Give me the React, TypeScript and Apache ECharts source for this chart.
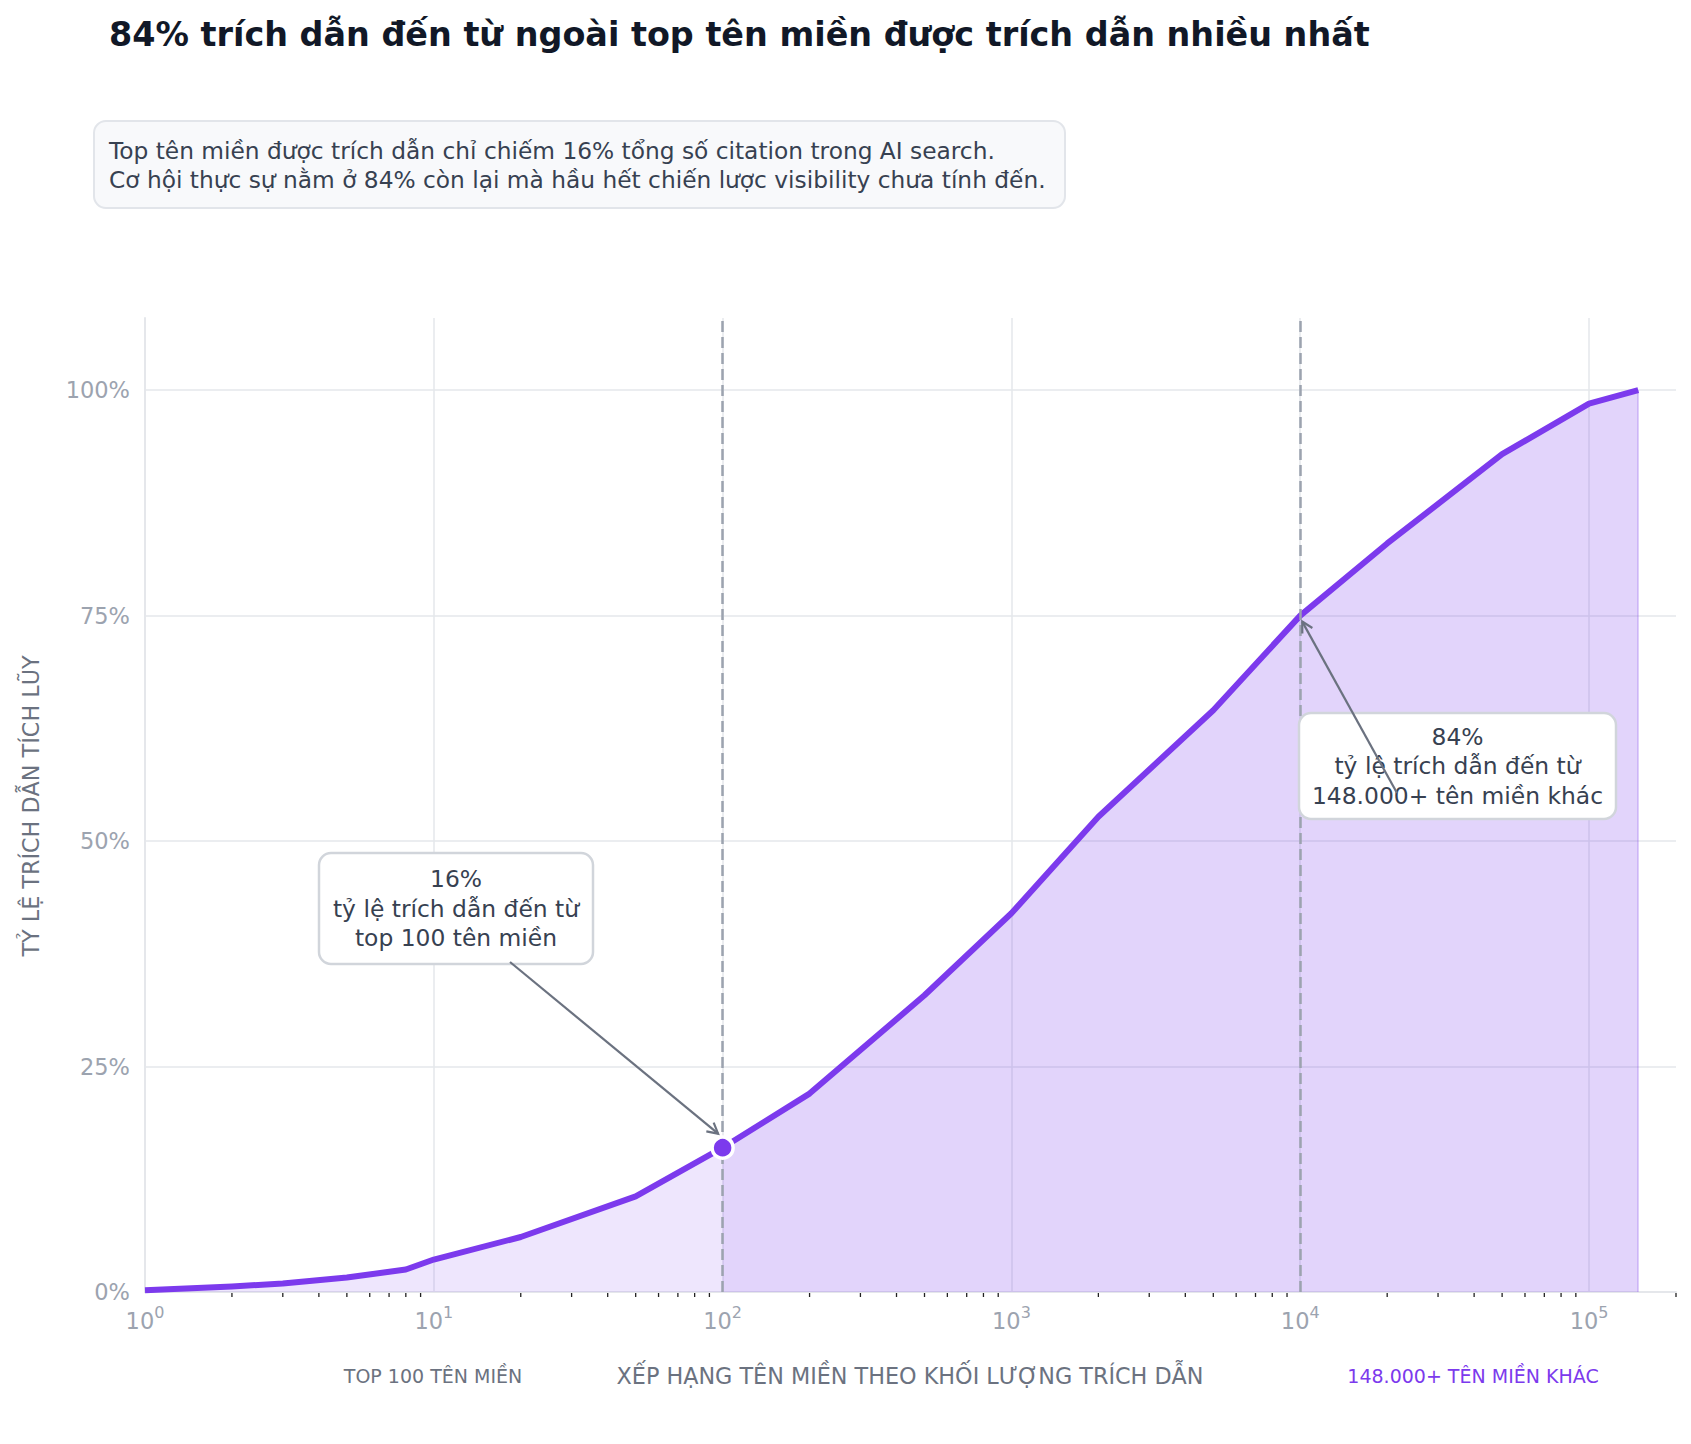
import React, { useEffect, useRef } from "react";
import * as echarts from "echarts";

// Cumulative citation share by domain rank (log-scaled rank axis)
const ranks = [1, 2, 3, 5, 8, 10, 20, 50, 100, 200, 500, 1000, 2000, 5000, 10000, 20000, 50000, 100000, 148000];
const cumulativeShare = [0.2, 0.6, 0.95, 1.6, 2.5, 3.6, 6.1, 10.6, 16, 22, 32.9, 42, 52.7, 64.5, 75, 83, 92.9, 98.5, 100];

const yTicks = [0, 25, 50, 75, 100];
const xMin = 1;
const xMax = 200000;
const yMax = 108;

const topCutRank = 100;
const longTailRank = 10000;
const totalDomains = 148000;

const title = "84% trích dẫn đến từ ngoài top tên miền được trích dẫn nhiều nhất";
const subtitleLines = [
  "Top tên miền được trích dẫn chỉ chiếm 16% tổng số citation trong AI search.",
  "Cơ hội thực sự nằm ở 84% còn lại mà hầu hết chiến lược visibility chưa tính đến.",
];
const yAxisTitle = "TỶ LỆ TRÍCH DẪN TÍCH LŨY";
const xAxisTitle = "XẾP HẠNG TÊN MIỀN THEO KHỐI LƯỢNG TRÍCH DẪN";
const leftZoneLabel = "TOP 100 TÊN MIỀN";
const rightZoneLabel = "148.000+ TÊN MIỀN KHÁC";

const FONT = "DejaVu Sans";
const PURPLE = "#7c3aed";
const GRID = "#e5e7eb";
const TICK_TEXT = "#9ca3af";
const MUTED = "#6b7280";
const DARK = "#374151";

// minor tick positions at 2..9 × 10^n inside the axis range
const minorTicks: number[][] = [];
for (let d = 0; d <= 5; d++) {
  for (let k = 2; k <= 9; k++) {
    const v = k * Math.pow(10, d);
    if (v <= xMax) minorTicks.push([v, 0]);
  }
}

function arrow(from: number[], to: number[], color: string) {
  const ang = Math.atan2(to[1] - from[1], to[0] - from[0]);
  const len = 12;
  const spread = 0.5;
  const a1 = [to[0] - len * Math.cos(ang - spread), to[1] - len * Math.sin(ang - spread)];
  const a2 = [to[0] - len * Math.cos(ang + spread), to[1] - len * Math.sin(ang + spread)];
  return [
    {
      type: "line",
      z: 120,
      shape: { x1: from[0], y1: from[1], x2: to[0], y2: to[1] },
      style: { stroke: color, lineWidth: 2.2 },
    },
    {
      type: "polyline",
      z: 120,
      shape: { points: [a1, to, a2] },
      style: { stroke: color, lineWidth: 2.2, fill: null },
    },
  ];
}

function annotation(x: number, y: number, w: number, h: number, lines: string[]) {
  return [
    {
      type: "rect",
      z: 110,
      shape: { x, y, width: w, height: h, r: 12 },
      style: { fill: "#ffffff", stroke: "#d1d5db", lineWidth: 2.5 },
    },
    {
      type: "text",
      z: 111,
      x: x + w / 2,
      y: y + h / 2,
      style: {
        text: lines.join("\n"),
        font: `23.4px '${FONT}'`,
        fill: DARK,
        align: "center",
        verticalAlign: "middle",
        lineHeight: 29.5,
      },
    },
  ];
}

export default function App() {
  const ref = useRef<HTMLDivElement>(null);

  useEffect(() => {
    if (!ref.current) return;
    const chart = echarts.init(ref.current, undefined, { renderer: "svg" });

    const pairs = ranks.map((r, i) => [r, cumulativeShare[i]]);
    const cutIndex = ranks.indexOf(topCutRank);
    const tailIndex = ranks.indexOf(longTailRank);
    const topShare = cumulativeShare[cutIndex];

    chart.setOption({
      animation: false,
      backgroundColor: "#ffffff",
      textStyle: { fontFamily: FONT },
      grid: { left: 145, right: 15, top: 318, bottom: 152, containLabel: false, outerBoundsMode: "none" },
      xAxis: {
        type: "log",
        logBase: 10,
        min: xMin,
        max: xMax,
        splitNumber: 5,
        axisLine: { show: true, lineStyle: { color: GRID, width: 2 } },
        axisTick: { show: false },
        splitLine: { show: true, showMinLine: false, showMaxLine: false, lineStyle: { color: GRID, width: 1.5 } },
        axisLabel: {
          showMaxLabel: false,
          margin: 12,
          formatter: (v: number) => `{b|10}{s|${Math.round(Math.log10(v))}}`,
          rich: {
            b: { fontSize: 22.5, fontFamily: FONT, color: TICK_TEXT, lineHeight: 28, verticalAlign: "bottom" },
            s: { fontSize: 16, fontFamily: FONT, color: TICK_TEXT, lineHeight: 16, verticalAlign: "top" },
          },
        },
      },
      yAxis: {
        type: "value",
        min: yTicks[0],
        max: yMax,
        interval: yTicks[1] - yTicks[0],
        axisLine: { show: true, lineStyle: { color: GRID, width: 2 } },
        axisTick: { show: false },
        splitLine: { show: true, showMaxLine: false, lineStyle: { color: GRID, width: 1.5 } },
        axisLabel: {
          showMaxLabel: false,
          margin: 15,
          fontSize: 22.5,
          fontFamily: FONT,
          color: TICK_TEXT,
          formatter: (v: number) => (yTicks.includes(v) ? `${v}%` : ""),
        },
      },
      series: [
        {
          name: "top",
          type: "line",
          data: pairs.slice(0, cutIndex + 1),
          showSymbol: false,
          silent: true,
          lineStyle: { width: 0 },
          areaStyle: { color: "rgba(124,58,237,0.13)", opacity: 1 },
          z: 1,
        },
        {
          name: "tail",
          type: "line",
          data: pairs.slice(cutIndex),
          showSymbol: false,
          silent: true,
          lineStyle: { width: 0 },
          areaStyle: { color: "rgba(124,58,237,0.22)", opacity: 1 },
          z: 1,
          markLine: {
            silent: true,
            symbol: "none",
            label: { show: false },
            lineStyle: { color: "rgba(124,58,237,0.2)", width: 2, type: "solid" },
            data: [[{ coord: [totalDomains, 0] }, { coord: [totalDomains, cumulativeShare[cumulativeShare.length - 1]] }]],
          },
        },
        {
          name: "markers",
          type: "line",
          data: [],
          z: 2,
          markLine: {
            silent: true,
            symbol: "none",
            label: { show: false },
            lineStyle: { color: TICK_TEXT, width: 2.5, type: [11, 5] },
            data: [{ xAxis: topCutRank }, { xAxis: longTailRank }],
          },
        },
        {
          name: "curve",
          type: "line",
          data: pairs,
          showSymbol: false,
          silent: true,
          lineStyle: { color: PURPLE, width: 6, join: "round" },
          z: 3,
        },
        {
          name: "cut",
          type: "scatter",
          data: [pairs[cutIndex]],
          symbol: "circle",
          symbolSize: 21,
          silent: true,
          itemStyle: { color: PURPLE, borderColor: "#ffffff", borderWidth: 3.5, opacity: 1 },
          z: 10,
        },
        {
          name: "minor ticks",
          type: "custom",
          data: minorTicks,
          encode: { x: 0, y: 1 },
          clip: false,
          silent: true,
          z: 5,
          renderItem: (_params: any, api: any) => {
            const p = api.coord([api.value(0), 0]);
            return {
              type: "line",
              shape: { x1: p[0], y1: p[1] + 1, x2: p[0], y2: p[1] + 5 },
              style: { stroke: "#222222", lineWidth: 1.3 },
            };
          },
        },
      ],
    });

    const cutPx = chart.convertToPixel({ xAxisIndex: 0, yAxisIndex: 0 }, [topCutRank, topShare]) as number[];
    const tailPx = chart.convertToPixel({ xAxisIndex: 0, yAxisIndex: 0 }, [longTailRank, cumulativeShare[tailIndex]]) as number[];

    const elements: any[] = [
      {
        type: "text",
        x: 109,
        y: 34,
        style: { text: title, font: `bold 33.4px '${FONT}'`, fill: "#111827", verticalAlign: "middle" },
      },
      {
        type: "rect",
        shape: { x: 94, y: 121, width: 971, height: 87, r: 12 },
        style: { fill: "#f8f9fb", stroke: "#e2e5ea", lineWidth: 2 },
      },
      {
        type: "text",
        x: 109,
        y: 150,
        style: { text: subtitleLines[0], font: `23.3px '${FONT}'`, fill: DARK, verticalAlign: "middle" },
      },
      {
        type: "text",
        x: 109,
        y: 179,
        style: { text: subtitleLines[1], font: `23.3px '${FONT}'`, fill: DARK, verticalAlign: "middle" },
      },
      {
        type: "text",
        x: 31,
        y: 806,
        rotation: Math.PI / 2,
        style: { text: yAxisTitle, font: `22.3px '${FONT}'`, fill: MUTED, align: "center", verticalAlign: "middle" },
      },
      {
        type: "text",
        x: 910,
        y: 1376,
        style: { text: xAxisTitle, font: `22.3px '${FONT}'`, fill: MUTED, align: "center", verticalAlign: "middle" },
      },
      {
        type: "text",
        x: 433,
        y: 1376,
        style: { text: leftZoneLabel, font: `19px '${FONT}'`, fill: MUTED, align: "center", verticalAlign: "middle" },
      },
      {
        type: "text",
        x: 1473,
        y: 1376,
        style: { text: rightZoneLabel, font: `19px '${FONT}'`, fill: PURPLE, align: "center", verticalAlign: "middle" },
      },
      ...annotation(319, 853, 274, 111, [`${topShare}%`, "tỷ lệ trích dẫn đến từ", "top 100 tên miền"]),
      ...arrow([510, 962], [cutPx[0] - 4.5, cutPx[1] - 14], MUTED),
      ...annotation(1299, 713, 317, 106, [`${100 - topShare}%`, "tỷ lệ trích dẫn đến từ", "148.000+ tên miền khác"]),
      ...arrow([1397, 793], [tailPx[0] + 2, tailPx[1] + 6], MUTED),
    ];

    chart.setOption({ graphic: { elements } });

    return () => chart.dispose();
  }, []);

  return (
    <div
      ref={ref}
      style={{ position: "fixed", left: 0, top: 0, width: 1691, height: 1444, background: "#ffffff" }}
    />
  );
}
